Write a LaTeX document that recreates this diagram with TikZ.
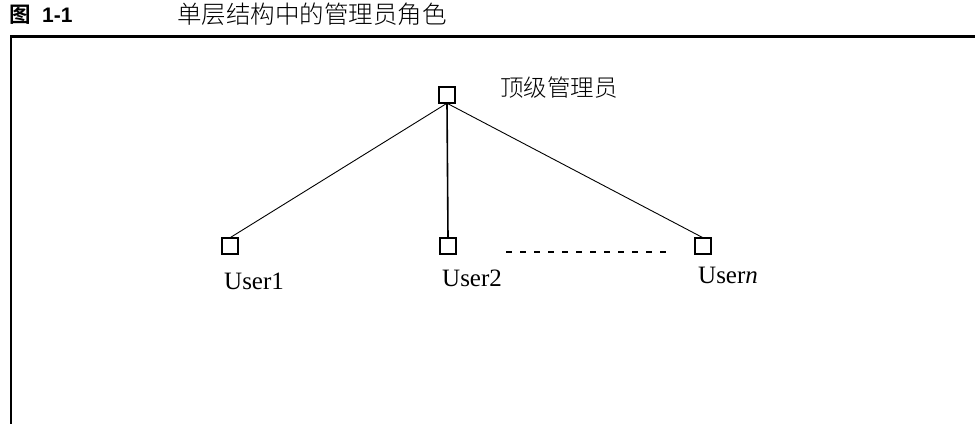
\documentclass[tikz,border=0pt]{standalone}
\usepackage{fontspec}
\setmainfont{Liberation Serif}
\IfFontExistsTF{Noto Sans CJK SC Light}
  {\newfontfamily\cjk{Noto Sans CJK SC Light}}
  {\newfontfamily\cjk{Noto Sans CJK SC}}
\newfontfamily\cjkb{Noto Sans CJK SC}[BoldFont={* Bold}]
\newfontfamily\titlesans{Liberation Sans}
\begin{document}
\begin{tikzpicture}[x=1pt,y=-1pt,
  ubox/.style={draw,line width=1.9pt,minimum size=16.5pt,inner sep=0pt,outer sep=0pt},
  conn/.style={line width=0.9pt},
  ulabel/.style={anchor=base west,inner sep=0pt,font=\fontsize{25}{25}\selectfont},
  cjklabel/.style={anchor=west,inner sep=0pt,font=\cjk\fontsize{23.5}{23.5}\selectfont}]
\useasboundingbox (0,0) rectangle (975,424);
% frame
\draw[line width=3pt] (10,36.5) -- (975,36.5);
\draw[line width=2pt] (11,36.5) -- (11,424);
% title
\node[anchor=west,inner sep=0pt,font=\cjkb\bfseries\fontsize{21.5}{21.5}\selectfont] (fig) at (9,15) {图};
\node[anchor=west,inner sep=0pt,font=\titlesans\bfseries\fontsize{21}{21}\selectfont] (fignum) at (42,15) {1-1};
\node[anchor=west,inner sep=0pt,font=\cjk\fontsize{24.5}{24.5}\selectfont] (title) at (177,14) {单层结构中的管理员角色};
% nodes
\node[ubox] (top) at (447,95) {};
\node[cjklabel] (toplab) at (500,87.5) {顶级管理员};
\node[ubox] (u1) at (230,246) {};
\node[ubox] (u2) at (448,246) {};
\node[ubox] (un) at (703,246) {};
\node[ulabel] (l1) at (224,289) {User1};
\node[ulabel] (l2) at (442,286) {User2};
\node[ulabel] (ln) at (698,283) {User\textit{n}};
\coordinate (ds) at (506,252);
\coordinate (de) at (670,252);
% connectors
\draw[conn] (top.south) -- (u1.north);
\draw[line width=1.6pt] (top.south) -- (u2.north);
\draw[conn] (top.south) -- (un.north);
\draw[line width=1.6pt,dash pattern=on 6pt off 8pt] (ds) -- (de);
\end{tikzpicture}
\end{document}
